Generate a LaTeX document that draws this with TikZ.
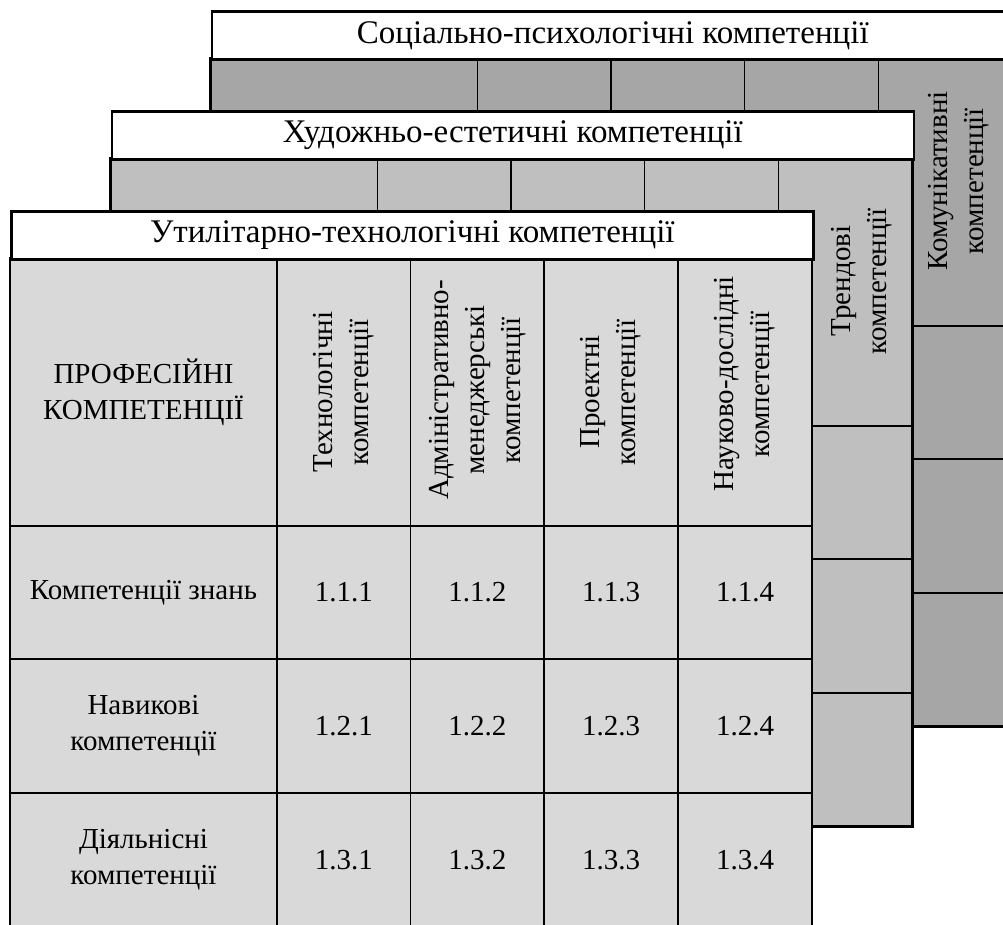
\documentclass[tikz,border=0pt]{standalone}
\usepackage{fontspec}
\setmainfont{Liberation Serif}
\tikzset{
  cellline/.style={draw=black, line width=1.8pt},
  outerline/.style={draw=black, line width=2.4pt},
  headbox/.style={draw=black, fill=white, line width=2.6pt, inner sep=0pt,
    minimum width=802pt, minimum height=48pt, anchor=north west,
    font=\fontsize{33}{40}\selectfont},
  bodytext/.style={align=center, inner sep=0pt, font=\fontsize{29}{36}\selectfont},
  vtext/.style={bodytext, rotate=90},
}
\definecolor{frontgray}{HTML}{D9D9D9}
\definecolor{midgray}{HTML}{BFBFBF}
\definecolor{backgray}{HTML}{A6A6A6}
\newcommand\comptable[5]{%
  \begin{scope}[shift={(#1,#2)}]
    \fill[#3] (10,258) rectangle (812,926.5);
    \foreach \xa/\xb in {10/277,277/410.5,410.5/544,544/678,678/812}{
      \foreach \ya/\yb in {258/526,526/659,659/793,793/926.5}{
        \draw[cellline] (\xa,\ya) rectangle (\xb,\yb);
      }
    }
    \draw[outerline] (10,258) rectangle (812,926.5);
    \node[headbox] (#4) at (10,210) {#5};
  \end{scope}}
\begin{document}
\begin{tikzpicture}[x=1pt,y=-1pt]
  \useasboundingbox (0,0) rectangle (1003,924);
  \clip (0,0) rectangle (1003,924);
  % back table
  \comptable{200.5}{-200}{backgray}{sochead}{Соціально-психологічні компетенції}
  \node[vtext] (komun) at (959,181) {Комунікативні\\компетенції};
  % middle table
  \comptable{100.5}{-100}{midgray}{artshead}{Художньо-естетичні компетенції}
  \node[vtext] (trend) at (862,281) {Трендові\\компетенції};
  % front table
  \comptable{0}{0}{frontgray}{utilhead}{Утилітарно-технологічні компетенції}
  \node[bodytext] (prof) at (143.5,392) {ПРОФЕСІЙНІ\\КОМПЕТЕНЦІЇ};
  \node[vtext] (tech) at (343.75,392) {Технологічні\\компетенції};
  \node[vtext] (admin) at (477.25,390) {Адміністративно-\\менеджерські\\компетенції};
  \node[vtext] (proj) at (611,392) {Проектні\\компетенції};
  \node[vtext] (sci) at (745,384) {Науково-дослідні\\компетенції};
  \node[bodytext] (know) at (143.5,592.5) {Компетенції знань};
  \node[bodytext] (skill) at (143.5,726) {Навикові\\компетенції};
  \node[bodytext] (act) at (143.5,859.75) {Діяльнісні\\компетенції};
  \node[bodytext] (c111) at (343.75,592.5) {1.1.1};
  \node[bodytext] (c112) at (477.25,592.5) {1.1.2};
  \node[bodytext] (c113) at (611,592.5) {1.1.3};
  \node[bodytext] (c114) at (745,592.5) {1.1.4};
  \node[bodytext] (c121) at (343.75,726) {1.2.1};
  \node[bodytext] (c122) at (477.25,726) {1.2.2};
  \node[bodytext] (c123) at (611,726) {1.2.3};
  \node[bodytext] (c124) at (745,726) {1.2.4};
  \node[bodytext] (c131) at (343.75,859.75) {1.3.1};
  \node[bodytext] (c132) at (477.25,859.75) {1.3.2};
  \node[bodytext] (c133) at (611,859.75) {1.3.3};
  \node[bodytext] (c134) at (745,859.75) {1.3.4};
\end{tikzpicture}
\end{document}
